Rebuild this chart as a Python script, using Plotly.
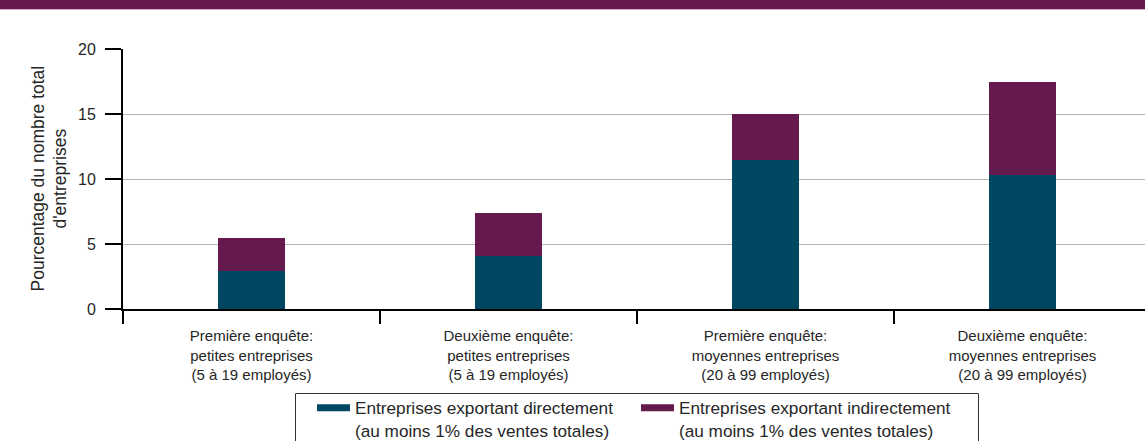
import plotly.graph_objects as go

# Survey groups (x-axis categories)
categories = [
    "Première enquête:<br>petites entreprises<br>(5 à 19 employés)",
    "Deuxième enquête:<br>petites entreprises<br>(5 à 19 employés)",
    "Première enquête:<br>moyennes entreprises<br>(20 à 99 employés)",
    "Deuxième enquête:<br>moyennes entreprises<br>(20 à 99 employés)",
]
# Share of firms (%) exporting directly / indirectly
direct = [2.9, 4.1, 11.5, 10.3]
indirect = [2.6, 3.3, 3.5, 7.15]

series_names = [
    "Entreprises exportant directement<br>(au moins 1% des ventes totales)",
    "Entreprises exportant indirectement<br>(au moins 1% des ventes totales)",
]
y_ticks = [0, 5, 10, 15, 20]
y_title = "Pourcentage du nombre total<br>d'entreprises"

TEAL = "#004862"
PLUM = "#641a4c"
INK = "#262626"
FONT = "Liberation Sans, Arial, sans-serif"

W, H = 1145, 441
ML, MR, MT, MB = 123, 0, 49, 132
plot_w = W - ML - MR
plot_h = H - MT - MB


def px_x(p):
    """Horizontal pixel -> paper coordinate."""
    return (p - ML) / plot_w


def px_y(p):
    """Vertical pixel (from top) -> paper coordinate."""
    return (MT + plot_h - p) / plot_h


fig = go.Figure()
for vals, color in ((direct, TEAL), (indirect, PLUM)):
    fig.add_trace(go.Bar(x=categories, y=vals, marker=dict(color=color, line=dict(width=0)),
                         width=0.257, showlegend=False, hoverinfo="skip"))

# Legend entries drawn as thick flat swatches
for name, color in zip(series_names, (TEAL, PLUM)):
    fig.add_trace(go.Scatter(x=[None], y=[None], mode="lines", name=name,
                             line=dict(color=color, width=7)))

# Decorative band across the top
fig.add_shape(type="rect", xref="paper", yref="paper",
              x0=px_x(0), x1=1.0, y0=px_y(9), y1=px_y(0),
              fillcolor=PLUM, line=dict(width=0), layer="above")
fig.add_shape(type="line", xref="paper", yref="paper",
              x0=px_x(0), x1=1.0, y0=px_y(9.5), y1=px_y(9.5),
              line=dict(color="#d8a9c9", width=1), layer="above")

# Frame around the legend
fig.add_shape(type="rect", xref="paper", yref="paper",
              x0=px_x(295.5), x1=px_x(978.5), y0=px_y(460), y1=px_y(393.5),
              line=dict(color="#333333", width=1), fillcolor="rgba(0,0,0,0)", layer="above")

# Y-axis title
fig.add_annotation(text=y_title, xref="paper", yref="paper",
                   x=px_x(48.5), y=0.5, xanchor="center", yanchor="middle",
                   textangle=-90, showarrow=False,
                   font=dict(family=FONT, size=17.5, color=INK))

fig.update_layout(
    width=W, height=H,
    margin=dict(l=ML, r=MR, t=MT, b=MB, autoexpand=False),
    barmode="stack",
    plot_bgcolor="white", paper_bgcolor="white",
    font=dict(family=FONT, color=INK, size=15),
    showlegend=True,
    legend=dict(
        orientation="h",
        x=px_x(312), xanchor="left",
        y=px_y(390), yanchor="top",
        borderwidth=0, bgcolor="rgba(0,0,0,0)",
        font=dict(family=FONT, size=17.2, color=INK),
        itemwidth=33,
        entrywidth=276, entrywidthmode="pixels",
        valign="top",
        traceorder="normal",
    ),
    xaxis=dict(
        type="category",
        range=[-0.5, -0.5 + plot_w / 257.0],
        tickson="boundaries",
        ticks="outside", ticklen=13, tickwidth=2, tickcolor="black",
        ticklabelstandoff=12,
        showline=True, linecolor="black", linewidth=2,
        showgrid=False, zeroline=False,
        tickfont=dict(size=15, color=INK),
        fixedrange=True,
    ),
    yaxis=dict(
        range=[0, 20],
        tickvals=y_ticks,
        ticks="outside", ticklen=16, tickwidth=2, tickcolor="black",
        ticklabelstandoff=6,
        showline=True, linecolor="black", linewidth=2,
        showgrid=True, gridcolor="#b3b3b3", gridwidth=1,
        zeroline=False,
        tickfont=dict(size=16, color=INK),
        fixedrange=True,
    ),
)

fig.write_html("out.html")
